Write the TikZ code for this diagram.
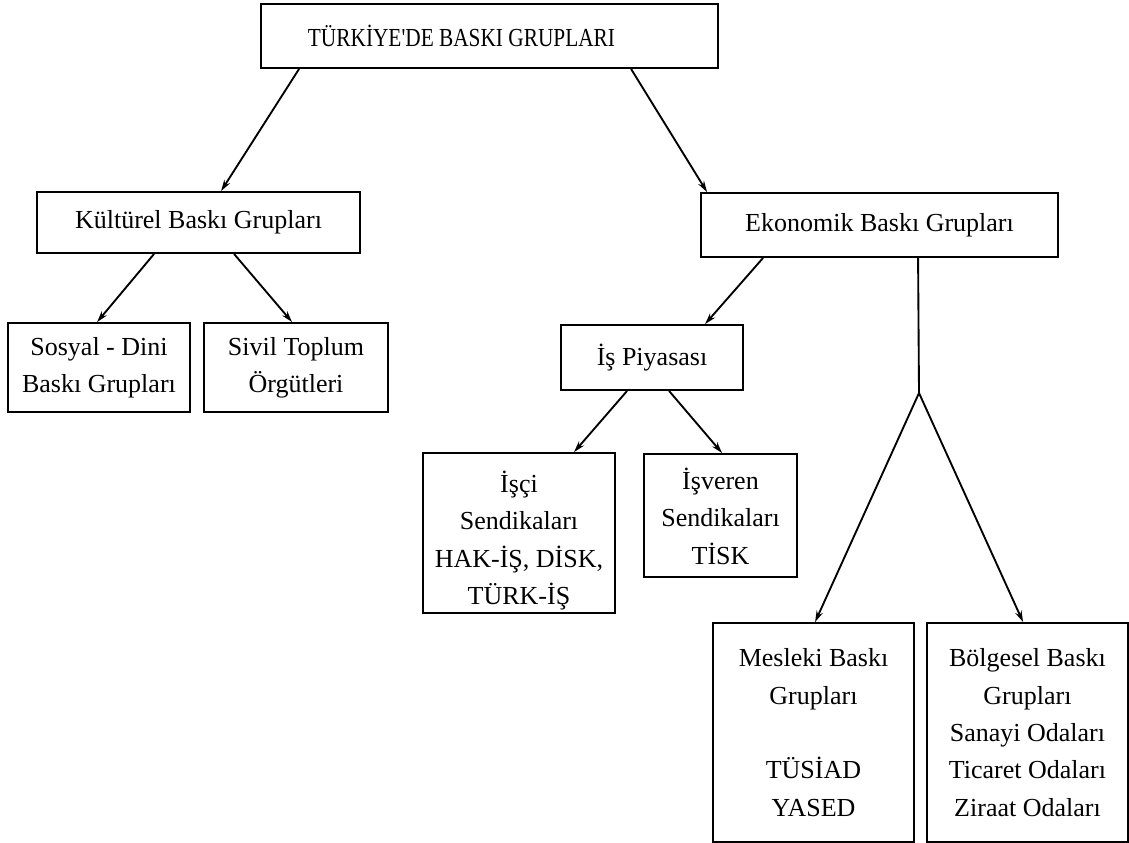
\documentclass[tikz,border=0pt]{standalone}
\usepackage{fontspec}
\setmainfont{Liberation Serif}
\usetikzlibrary{arrows.meta,calc}
\begin{document}
\begin{tikzpicture}[x=0.75pt,y=-0.75pt,
  box/.style={draw,line width=1.4pt,inner sep=0pt,align=center,
    font=\fontsize{19.5}{28}\selectfont},
  arr/.style={line width=1.4pt,-{Stealth[length=8.5pt,width=5pt]}},
  ln/.style={line width=1.4pt}]
\useasboundingbox (0,0) rectangle (1129,843);
\node[box,minimum width=457*0.75pt,minimum height=64*0.75pt] (top) at (489.5,36)
  {\scalebox{0.82}[1]{TÜRKİYE\textquotesingle DE BASKI GRUPLARI}\hspace*{42pt}};
\node[box,minimum width=323*0.75pt,minimum height=61*0.75pt] (kul) at (198.5,222.5) {Kültürel Baskı Grupları};
\node[box,minimum width=357*0.75pt,minimum height=64*0.75pt] (eko) at (879.5,225) {Ekonomik Baskı Grupları};
\node[box,minimum width=182*0.75pt,minimum height=89*0.75pt] (sos) at (99,367.5) {Sosyal - Dini\\Baskı Grupları};
\node[box,minimum width=184*0.75pt,minimum height=89*0.75pt] (siv) at (296,367.5) {Sivil Toplum\\Örgütleri};
\node[box,minimum width=182*0.75pt,minimum height=65*0.75pt] (is) at (652,357.5) {İş Piyasası};
\node[box,minimum width=192*0.75pt,minimum height=160*0.75pt] (isci) at (519,533)
  {\raisebox{-6pt}[\height][\depth]{\begin{tabular}{@{}c@{}}İşçi\\Sendikaları\\HAK-İŞ, DİSK,\\TÜRK-İŞ\end{tabular}}};
\node[box,minimum width=153*0.75pt,minimum height=123*0.75pt] (isv) at (720.5,515.5)
  {\raisebox{-3pt}[\height][\depth]{\begin{tabular}{@{}c@{}}İşveren\\Sendikaları\\TİSK\end{tabular}}};
\node[box,minimum width=201*0.75pt,minimum height=219*0.75pt] (mes) at (813.5,732.5) {Mesleki Baskı\\Grupları\\ \\TÜSİAD\\YASED};
\node[box,minimum width=201*0.75pt,minimum height=219*0.75pt] (bol) at (1027.5,732.5) {Bölgesel Baskı\\Grupları\\Sanayi Odaları\\Ticaret Odaları\\Ziraat Odaları};
\coordinate (fork) at (919,393);
\draw[arr] ($(top.south west)+(39,0)$) -- ($(kul.north west)+(185,0)$);
\draw[arr] ($(top.south west)+(371,0)$) -- ($(eko.north west)+(7,0)$);
\draw[arr] ($(kul.south west)+(118,0)$) -- ($(sos.north west)+(90,0)$);
\draw[arr] ($(kul.south west)+(198,0)$) -- ($(siv.north west)+(89,0)$);
\draw[arr] ($(eko.south west)+(63,0)$) -- ($(is.north west)+(145,0)$);
\draw[arr] ($(is.south west)+(67,0)$) -- ($(isci.north west)+(152,0)$);
\draw[arr] ($(is.south west)+(109,0)$) -- ($(isv.north west)+(79,0)$);
\draw[ln] ($(eko.south west)+(218,0)$) -- (fork);
\draw[arr] (fork) -- ($(mes.north west)+(103,0)$);
\draw[arr] (fork) -- ($(bol.north west)+(97,0)$);
\end{tikzpicture}
\end{document}
